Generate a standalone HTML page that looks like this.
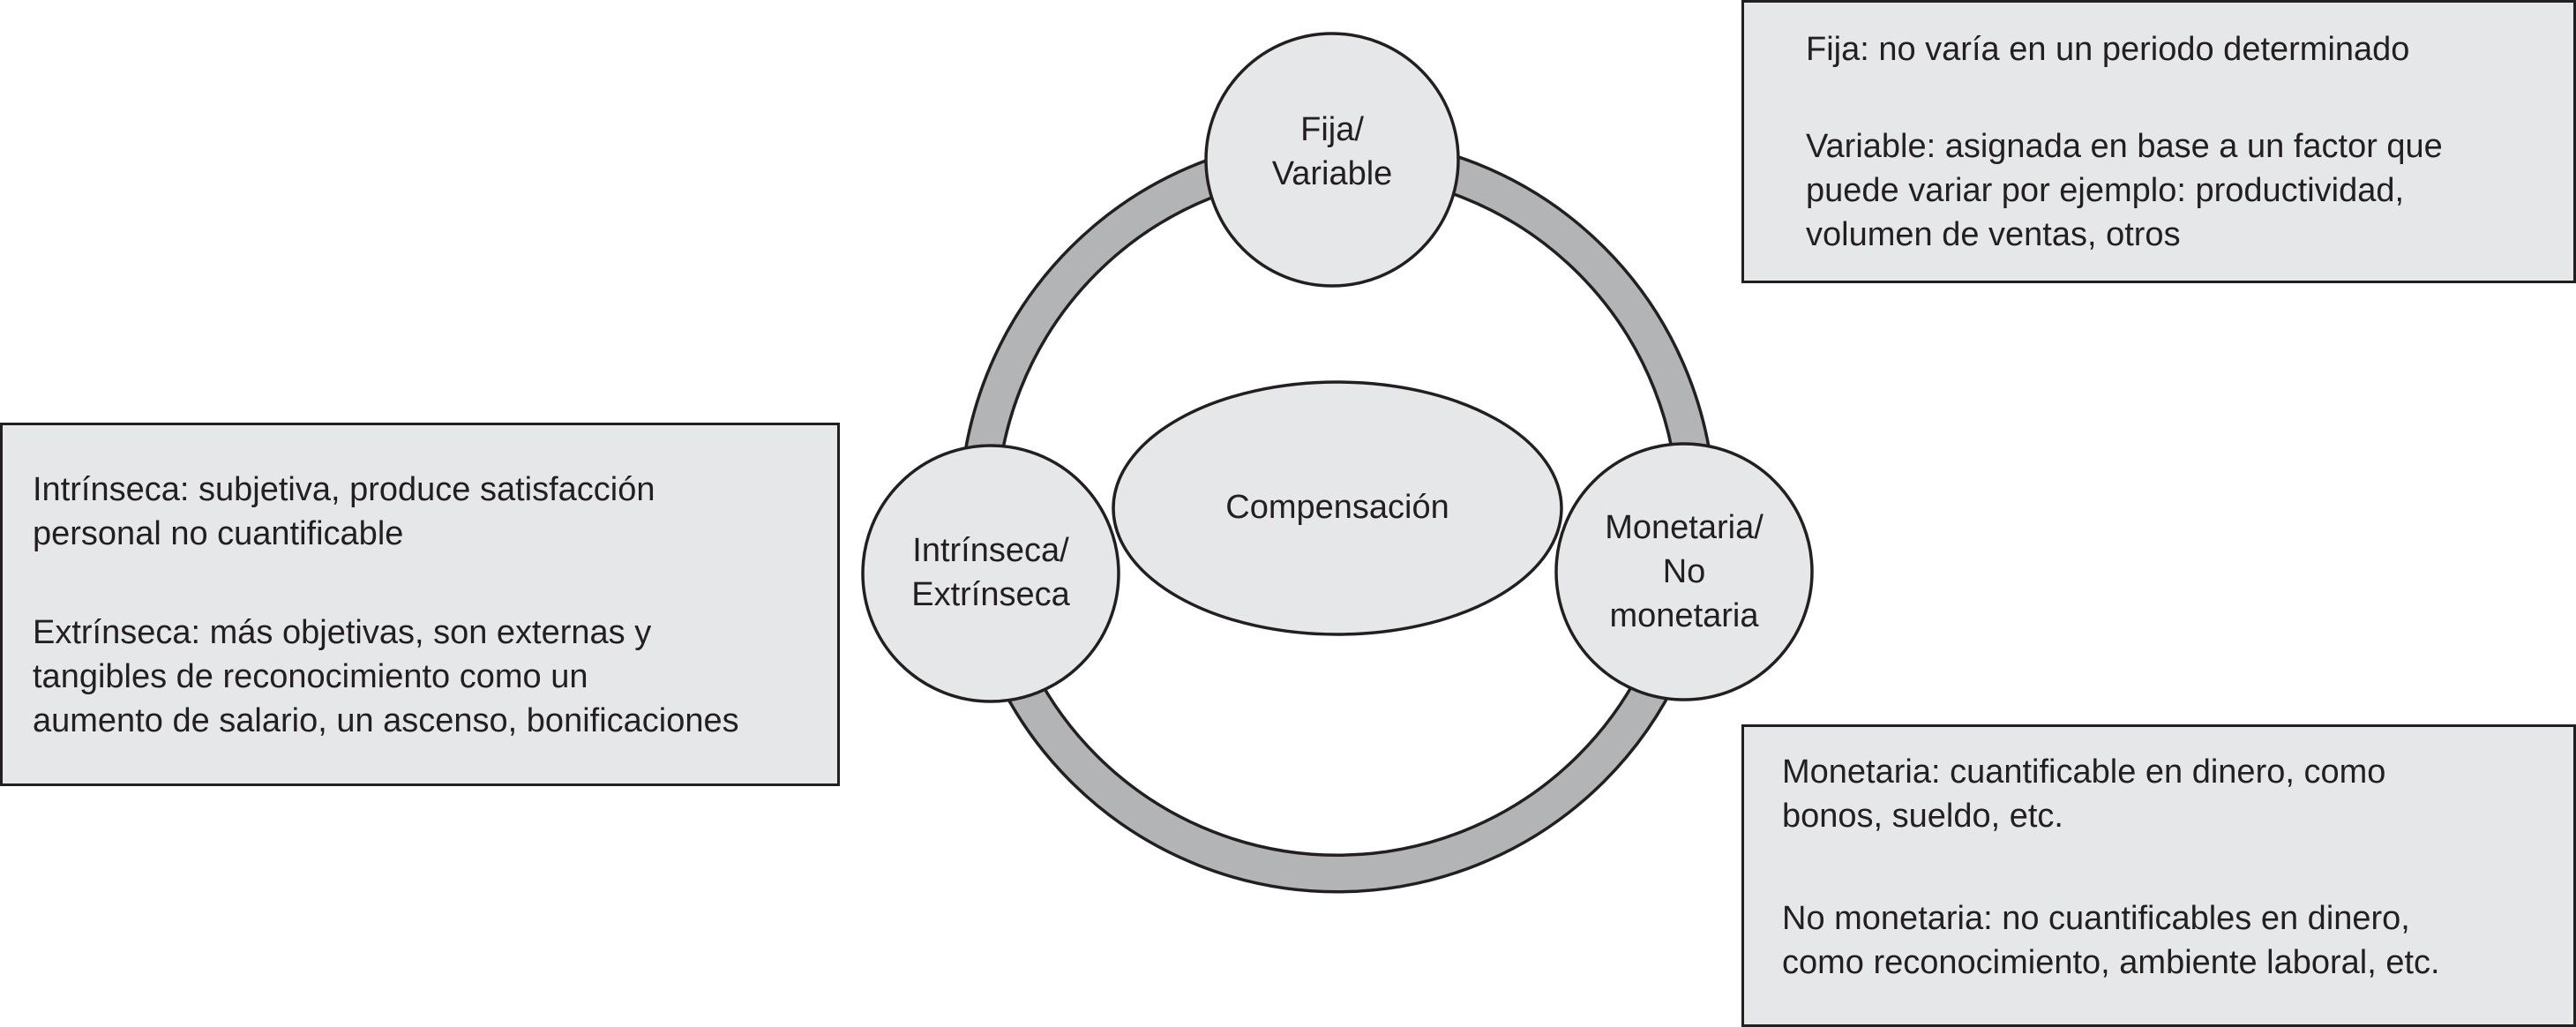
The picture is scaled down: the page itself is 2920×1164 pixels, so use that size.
<!DOCTYPE html>
<html><head><meta charset="utf-8"><style>
body{margin:0;width:2920px;height:1164px;background:#fff;position:relative;overflow:hidden;font-family:"Liberation Sans",sans-serif;color:#231f20}
.box{position:absolute;background:#e6e7e8;border:3.5px solid #231f20;box-sizing:border-box}
.t{position:absolute;font-size:38px;line-height:50px;white-space:nowrap}
.c{text-align:center;transform:translateX(-50%)}
</style></head><body>
<svg width="2920" height="1164" style="position:absolute;left:0;top:0">
<circle cx="1516" cy="583" r="407" fill="none" stroke="#231f20" stroke-width="45"/>
<circle cx="1516" cy="583" r="407" fill="none" stroke="#b3b4b6" stroke-width="38"/>
<g fill="#e6e7e8" stroke="#231f20" stroke-width="3.5">
<circle cx="1510" cy="181" r="143"/>
<circle cx="1123" cy="650" r="145"/>
<circle cx="1909" cy="648" r="145"/>
<ellipse cx="1516" cy="576" rx="254" ry="143"/>
</g></svg>
<div class="box" style="left:1974px;top:0;width:946px;height:321px"></div>
<div class="box" style="left:0;top:479px;width:952px;height:412px"></div>
<div class="box" style="left:1974px;top:821px;width:946px;height:343px"></div>
<div class="t" style="left:2047px;top:31px">Fija: no varía en un periodo determinado</div>
<div class="t" style="left:2047px;top:141px">Variable: asignada en base a un factor que<br>puede variar por ejemplo: productividad,<br>volumen de ventas, otros</div>
<div class="t" style="left:37px;top:530px">Intrínseca: subjetiva, produce satisfacción<br>personal no cuantificable</div>
<div class="t" style="left:37px;top:692px">Extrínseca: más objetivas, son externas y<br>tangibles de reconocimiento como un<br>aumento de salario, un ascenso, bonificaciones</div>
<div class="t" style="left:2020px;top:850px">Monetaria: cuantificable en dinero, como<br>bonos, sueldo, etc.</div>
<div class="t" style="left:2020px;top:1016px">No monetaria: no cuantificables en dinero,<br>como reconocimiento, ambiente laboral, etc.</div>
<div class="t c" style="left:1510px;top:122px">Fija/<br>Variable</div>
<div class="t c" style="left:1123px;top:599px">Intrínseca/<br>Extrínseca</div>
<div class="t c" style="left:1909px;top:573px">Monetaria/<br>No<br>monetaria</div>
<div class="t c" style="left:1516px;top:550px">Compensación</div>
</body></html>
